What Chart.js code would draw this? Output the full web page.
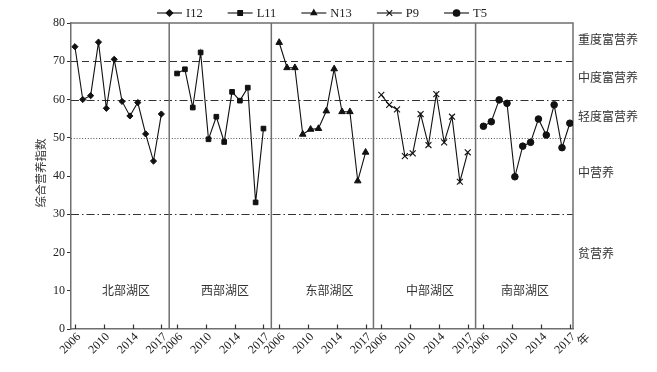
<!DOCTYPE html>
<html>
<head>
<meta charset="utf-8">
<script src="https://cdn.jsdelivr.net/npm/chart.js@4.4.1/dist/chart.umd.min.js"></script>
<style>
  html, body { margin: 0; padding: 0; background: #fff; }
  #wrap { width: 657px; height: 372px; }
</style>
</head>
<body>
<div id="wrap"><canvas id="tsiChart"></canvas></div>
<script>
// dati
const years = [2006, 2007, 2008, 2009, 2010, 2011, 2012, 2013, 2014, 2015, 2016, 2017];
const tickYears = ['2006', '2010', '2014', '2017'];
const regions = ['北部湖区', '西部湖区', '东部湖区', '中部湖区', '南部湖区'];
const seriesNames = ['I12', 'L11', 'N13', 'P9', 'T5'];
const seriesStyles = ['rectRot', 'rect', 'triangle', 'crossRot', 'circle'];

const i12 = [73.8, 60.0, 61.0, 75.0, 57.7, 70.5, 59.5, 55.7, 59.2, 51.0, 43.9, 56.2];
const l11 = [66.8, 67.9, 57.9, 72.3, 49.6, 55.5, 48.9, 62.0, 59.7, 63.1, 33.1, 52.4];
const n13 = [74.9, 68.3, 68.3, 50.9, 52.2, 52.4, 57.0, 68.0, 56.8, 56.8, 38.7, 46.2];
const p9  = [61.2, 58.6, 57.4, 45.2, 45.9, 56.2, 48.1, 61.4, 48.8, 55.5, 38.5, 46.2];
const t5  = [53.0, 54.2, 59.9, 59.0, 39.8, 47.8, 48.8, 54.9, 50.7, 58.6, 47.4, 53.8];
const allSeries = [i12, l11, n13, p9, t5];

// linee di soglia dei livelli trofici
const levelLines = [70, 60, 50, 30];
const levelNames = ['重度富营养', '中度富营养', '轻度富营养', '中营养', '贫营养'];
const levelNameValues = [75.7, 65.7, 55.7, 41.0, 19.8];

const PANEL = 13;      // larghezza di un pannello in anni
const FIRST = 0.5;     // posizione del primo anno nel pannello
const X_MAX = 63.9;

function panelStart(p) { return FIRST + PANEL * p; }

const datasets = allSeries.map(function (vals, p) {
    return {
        label: seriesNames[p],
        data: vals.map(function (v, i) { return { x: panelStart(p) + i, y: v }; }),
        borderColor: '#111',
        backgroundColor: '#111',
        borderWidth: 1.1,
        pointStyle: seriesStyles[p],
        pointRadius: p === 3 ? 4.2 : (p === 2 ? 3.8 : (p === 0 ? 3.1 : 3.3)),
        pointBorderWidth: p === 3 ? 1.1 : 1,
        pointBackgroundColor: '#111',
        pointBorderColor: '#111',
        tension: 0
    };
});

// posizioni dei tick: 4 etichette equidistanti per pannello
const tickPos = [];
const tickLabelMap = {};
for (let p = 0; p < 5; p++) {
    tickYears.forEach(function (y, k) {
        const v = +(panelStart(p) + k * (years.length - 1) / 3).toFixed(4);
        tickPos.push(v);
        tickLabelMap[v] = y;
    });
}

const SERIF = '"Liberation Serif", "Times New Roman", serif';
const CJK = '"Noto Sans CJK SC", "Liberation Serif", sans-serif';

const decor = {
    id: 'decor',
    beforeDatasetsDraw(chart) {
        const ctx = chart.ctx;
        const xs = chart.scales.x, ys = chart.scales.y;
        const a = chart.chartArea;
        ctx.save();
        // linee orizzontali
        const dashes = { 70: [7, 4], 60: [8, 3, 1.5, 3], 50: [1, 1.8], 30: [8, 3, 1.5, 3] };
        levelLines.forEach(function (v) {
            const y = Math.round(ys.getPixelForValue(v)) + 0.5;
            ctx.beginPath();
            ctx.setLineDash(dashes[v]);
            ctx.strokeStyle = v === 50 ? '#555' : '#333';
            ctx.lineWidth = 1;
            ctx.moveTo(a.left, y);
            ctx.lineTo(a.right, y);
            ctx.stroke();
        });
        ctx.setLineDash([]);
        // divisori tra i pannelli
        ctx.strokeStyle = '#6f6f6f';
        ctx.lineWidth = 1.5;
        for (let p = 0; p < 4; p++) {
            const x = xs.getPixelForValue(panelStart(p) + 12);
            ctx.beginPath();
            ctx.moveTo(x, a.top);
            ctx.lineTo(x, a.bottom);
            ctx.stroke();
        }
        // bordo superiore e destro
        ctx.beginPath();
        ctx.moveTo(a.left, a.top);
        ctx.lineTo(a.right, a.top);
        ctx.lineTo(a.right, a.bottom);
        ctx.stroke();
        // tick interni dell'asse x
        ctx.lineWidth = 1.2;
        ctx.strokeStyle = '#333';
        tickPos.forEach(function (v) {
            const x = Math.round(xs.getPixelForValue(v)) + 0.5;
            ctx.beginPath();
            ctx.moveTo(x, a.bottom);
            ctx.lineTo(x, a.bottom - 4.5);
            ctx.stroke();
        });
        ctx.restore();
    },
    afterDraw(chart) {
        const ctx = chart.ctx;
        const xs = chart.scales.x, ys = chart.scales.y;
        const a = chart.chartArea;
        ctx.save();
        // etichette dei livelli a destra
        ctx.fillStyle = '#333';
        ctx.font = '12px ' + CJK;
        ctx.textAlign = 'left';
        ctx.textBaseline = 'middle';
        levelNames.forEach(function (t, i) {
            ctx.fillText(t, a.right + 5, ys.getPixelForValue(levelNameValues[i]));
        });
        // nomi delle zone del lago
        ctx.textAlign = 'center';
        const regionX = [6.5, 6.1, 6.4, 6.2, 5.3];
        regions.forEach(function (t, p) {
            ctx.fillText(t, xs.getPixelForValue(panelStart(p) + regionX[p]), ys.getPixelForValue(10.2));
        });
        // titolo asse y
        ctx.save();
        ctx.translate(41, (a.top + a.bottom) / 2 - 3);
        ctx.rotate(-Math.PI / 2);
        ctx.font = '11.5px ' + CJK;
        ctx.fillText('综合营养指数', 0, 0);
        ctx.restore();
        // "年" dopo l'asse
        ctx.save();
        ctx.translate(a.right + 10, a.bottom + 10);
        ctx.rotate(-Math.PI / 4);
        ctx.font = '12px ' + CJK;
        ctx.fillText('年', 0, 0);
        ctx.restore();
        // legenda
        let x = 157;
        const ly = 13;
        ctx.font = '12.5px ' + SERIF;
        ctx.textAlign = 'left';
        ctx.textBaseline = 'middle';
        seriesNames.forEach(function (name, i) {
            ctx.strokeStyle = '#111';
            ctx.fillStyle = '#111';
            ctx.lineWidth = 1.1;
            ctx.beginPath();
            ctx.moveTo(x, ly);
            ctx.lineTo(x + 25, ly);
            ctx.stroke();
            Chart.helpers.drawPoint(ctx, {
                pointStyle: seriesStyles[i],
                radius: i === 3 ? 4 : 3.3,
                rotation: 0,
                borderWidth: 1
            }, x + 12.5, ly);
            ctx.fillStyle = '#222';
            ctx.fillText(name, x + 29, ly + 1);
            x += 29 + ctx.measureText(name).width + 25;
        });
        ctx.restore();
    }
};

new Chart(document.getElementById('tsiChart').getContext('2d'), {
    type: 'line',
    data: { datasets: datasets },
    options: {
        responsive: true,
        maintainAspectRatio: false,
        animation: false,
        layout: { padding: { top: 23, right: 84, bottom: 0, left: 0 } },
        plugins: {
            legend: { display: false },
            tooltip: { enabled: false }
        },
        scales: {
            x: {
                type: 'linear',
                min: 0,
                max: X_MAX,
                afterFit: function (s) { s.height = 43; },
                afterBuildTicks: function (s) {
                    s.ticks = tickPos.map(function (v) { return { value: v }; });
                },
                ticks: {
                    autoSkip: false,
                    minRotation: 45,
                    maxRotation: 45,
                    padding: 1,
                    labelOffset: 4,
                    color: '#222',
                    font: { family: SERIF, size: 12 },
                    callback: function (v) { return tickLabelMap[+(+v).toFixed(4)]; }
                },
                grid: { drawOnChartArea: false, drawTicks: false },
                border: { color: '#6f6f6f', width: 1.5 }
            },
            y: {
                min: 0,
                max: 80,
                afterFit: function (s) { s.width = 71; },
                ticks: {
                    stepSize: 10,
                    padding: 2,
                    color: '#222',
                    font: { family: SERIF, size: 12 }
                },
                grid: { drawOnChartArea: false, tickLength: 4, color: '#333' },
                border: { color: '#6f6f6f', width: 1.5 }
            }
        }
    },
    plugins: [decor]
});
</script>
</body>
</html>
